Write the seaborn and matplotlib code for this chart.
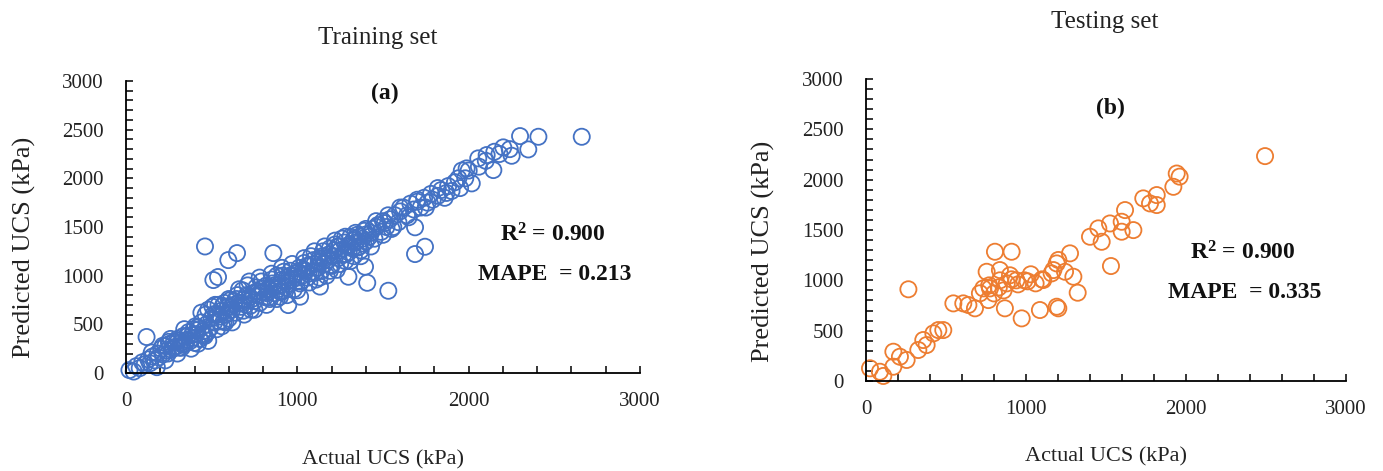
import matplotlib
matplotlib.use("Agg")
import matplotlib.pyplot as plt
from matplotlib.ticker import MultipleLocator
import seaborn as sns
import pandas as pd

# Training set: actual vs predicted UCS (kPa)
train_actual = [
    20, 45, 60, 80, 95, 110, 130, 140, 155, 170, 185, 120, 150, 190,
    205, 215, 230, 240, 255, 265, 280, 290, 300, 310, 320, 335, 345, 355, 365, 375, 385, 395, 400,
    410, 420, 430, 440, 450, 460, 465, 470, 480, 490, 500, 505, 515, 525, 530, 540, 550, 560, 570, 575, 585, 595, 600,
    610, 620, 630, 640, 650, 660, 670, 680, 690, 700, 710, 720, 730, 740, 750, 760, 770, 780, 790, 800,
    810, 820, 830, 840, 850, 860, 870, 880, 890, 900, 910, 920, 930, 940, 950, 960, 970, 980, 990, 1000,
    1010, 1020, 1030, 1040, 1050, 1060, 1070, 1080, 1090, 1100, 1110, 1120, 1130, 1140, 1150, 1160, 1170, 1180, 1190, 1200,
    1210, 1220, 1230, 1240, 1250, 1260, 1270, 1280, 1290, 1300, 1310, 1320, 1330, 1340, 1350, 1360, 1370, 1380, 1390, 1400,
    1420, 1440, 1450, 1470, 1490, 1500, 1520, 1540, 1550, 1570, 1590, 1600,
    1620, 1640, 1660, 1680, 1700, 1720, 1740, 1760, 1780, 1790,
    1820, 1840, 1860, 1880, 1900, 1920, 1950, 1980, 2000, 2018,
    2056, 2105, 2150, 2144, 1988, 2202, 2251, 2300, 2348, 2407, 2660,
    461, 510, 537, 597, 648, 860, 947, 1016, 899, 1132, 1298, 1395, 1408, 1531, 1687, 1687, 1745,
    215, 245, 275, 305, 330, 360, 390, 415, 445, 475, 510, 545, 565, 590, 615, 645, 675, 705, 735, 765,
    795, 825, 855, 885, 915, 945, 975, 1005, 1035, 1065, 1095, 1125, 1155, 1185, 1215, 1245, 1275, 1305,
    1335, 1365, 1395, 1430, 1460, 1510,
    180, 230, 260, 300, 340, 380, 420, 440, 480, 520, 560, 600, 620, 660, 690, 720, 750, 780, 820, 850,
    880, 910, 940, 970, 1000, 1040, 1070, 1100, 1130, 1160, 1190, 1220, 1250, 1280, 1310, 1340, 1370, 1400,
    1430, 1460, 1500, 1530, 1560, 1600, 1650, 1700, 1750, 1820, 1870, 1940, 1960, 2060, 2100, 2180, 2240,
    250, 325, 405, 455, 535, 580, 635, 685, 725, 775, 835, 865, 905, 955, 1015, 1055, 1105, 1145, 1195,
    1235, 1285, 1325, 1355, 1385,
]
train_pred = [
    30, 15, 70, 50, 110, 90, 140, 100, 170, 130, 200, 370, 210, 160,
    250, 190, 280, 230, 300, 240, 320, 270, 350, 260, 310, 380, 300, 340, 420, 330, 390, 450, 310,
    400, 470, 350, 520, 430, 380, 600, 500, 650, 460, 560, 680, 520, 610, 450, 700, 580, 640, 530, 720, 600, 680, 560,
    750, 650, 700, 620, 800, 720, 680, 850, 760, 700, 900, 780, 650, 820, 740, 880, 800, 720, 940, 830,
    780, 900, 860, 760, 960, 880, 820, 1000, 900, 840, 960, 1040, 880, 980, 920, 1050, 960, 860, 1020, 980,
    1080, 940, 1000, 1130, 1050, 980, 1100, 1200, 1040, 1120, 960, 1080, 1180, 1050, 1250, 1120, 1000, 1160, 1280, 1100,
    1200, 1320, 1060, 1180, 1260, 1380, 1220, 1150, 1300, 1240, 1400, 1280, 1200, 1340, 1420, 1300, 1260, 1380, 1460, 1350,
    1400, 1480, 1380, 1520, 1450, 1560, 1500, 1580, 1480, 1620, 1550, 1660,
    1700, 1620, 1740, 1680, 1760, 1700, 1800, 1750, 1840, 1780,
    1820, 1880, 1800, 1920, 1870, 1960, 1900, 2000, 2080, 1948,
    2205, 2239, 2273, 2085, 2102, 2318, 2232, 2434, 2297, 2427, 2427,
    1300, 955, 986, 1160, 1232, 1232, 698, 784, 784, 888, 989, 1092, 927, 845, 1497, 1222, 1297,
    280, 200, 260, 330, 290, 380, 360, 440, 400, 420, 600, 530, 690, 620, 680, 760, 720, 800, 760, 840,
    870, 820, 920, 860, 1000, 940, 1000, 1040, 1060, 1020, 1160, 1140, 1180, 1220, 1260, 1300, 1340, 1320,
    1380, 1400, 1420, 1440, 1500, 1540,
    60, 130, 350, 200, 450, 250, 300, 620, 330, 700, 480, 760, 520, 860, 600, 940, 650, 980, 700, 1020,
    760, 1080, 800, 1120, 850, 1180, 930, 1250, 980, 1300, 1050, 1360, 1120, 1400, 1150, 1440, 1200, 1480,
    1300, 1560, 1420, 1620, 1500, 1700, 1600, 1780, 1700, 1900, 1850, 2000, 2080, 2120, 2180, 2250, 2300,
    320, 260, 480, 390, 600, 520, 740, 640, 690, 840, 780, 900, 830, 1000, 920, 1100, 1030, 1200, 1110,
    1300, 1220, 1360, 1290, 1330,
]

# Testing set: actual vs predicted UCS (kPa)
test_actual = [
    25, 87, 108, 171, 171, 212, 254, 265, 327, 358, 379, 421, 452, 483,
    546, 608, 640, 681, 712, 733, 775, 765, 754, 837, 806, 910, 868,
    973, 1087, 1192, 1160, 1192,
    837, 880, 910, 950, 990, 1030, 1060, 900, 860, 940, 1010, 1100, 770, 800, 830,
    1942, 1960, 1921, 1733, 1817, 1775, 1817, 1619, 1598, 1525, 1671, 1598,
    1452, 1400, 1473, 1531, 1275, 1202, 1171, 1244, 1296, 1323, 1202, 1108,
    2494,
]
test_pred = [
    126, 92, 50, 142, 291, 241, 209, 911, 308, 407, 357, 473, 506, 506,
    771, 771, 755, 722, 871, 920, 920, 804, 1085, 1102, 1284, 1284, 722,
    622, 705, 738, 1069, 1168,
    1000, 970, 1010, 960, 1000, 1060, 970, 1050, 900, 1000, 990, 1010, 950, 870, 930,
    2061, 2030, 1929, 1814, 1847, 1764, 1748, 1698, 1582, 1565, 1499, 1483,
    1516, 1433, 1383, 1142, 1268, 1202, 1102, 1085, 1036, 877, 722, 1003,
    2234,
]

panels = [
    dict(actual=train_actual, pred=train_pred, color="#4472C4",
         title="Training set", tag="(a)", r2="0.900", mape="0.213"),
    dict(actual=test_actual, pred=test_pred, color="#ED7D31",
         title="Testing set", tag="(b)", r2="0.900", mape="0.335"),
]

sns.set_theme(style="white")
plt.rcParams["font.family"] = ["Liberation Serif", "DejaVu Serif"]
plt.rcParams["mathtext.fontset"] = "custom"
plt.rcParams["mathtext.rm"] = "Liberation Serif"
plt.rcParams["mathtext.bf"] = "Liberation Serif:bold"

W, H = 1383, 471
fig = plt.figure(figsize=(W / 100, H / 100), dpi=100)

# axes boxes in pixels: left, right, bottom, top
boxes = [(126, 640, 373, 81), (866, 1346, 381, 79)]
title_xy = [(378, 38), (1105, 22)]
tag_xy = [(385, 93), (1110, 108)]
r2_xy = [(553, 235), (1243, 253)]
mape_xy = [(555, 275), (1245, 293)]
xlab_top = [450, 447]
ylab_x = [24, 763]

for i, p in enumerate(panels):
    l, r, b, t = boxes[i]
    ax = fig.add_axes([l / W, 1 - b / H, (r - l) / W, (b - t) / H])
    df = pd.DataFrame({"Actual": p["actual"], "Predicted": p["pred"]})
    sns.scatterplot(data=df, x="Actual", y="Predicted", ax=ax, s=135,
                    marker="o", facecolor="none", edgecolor=p["color"],
                    linewidth=1.3, clip_on=False)
    ax.set_xlim(0, 3000)
    ax.set_ylim(0, 3000)
    ax.xaxis.set_major_locator(MultipleLocator(1000))
    ax.xaxis.set_minor_locator(MultipleLocator(200))
    ax.yaxis.set_major_locator(MultipleLocator(500))
    ax.yaxis.set_minor_locator(MultipleLocator(100))
    for s in ["top", "right"]:
        ax.spines[s].set_visible(False)
    for s in ["left", "bottom"]:
        ax.spines[s].set_color("black")
        ax.spines[s].set_linewidth(1.3)
    ax.tick_params(which="both", direction="in", length=5, width=1.1,
                   color="black", labelsize=15, labelcolor="#222222")
    ax.tick_params(axis="x", which="both", bottom=True, pad=14)
    ax.tick_params(axis="y", which="both", left=True, pad=16)

    ax.set_xlabel("Actual UCS (kPa)", fontsize=16, color="#222222")
    ax.set_ylabel("Predicted UCS (kPa)", fontsize=19, color="#222222")
    ax.xaxis.set_label_coords(0.5, (b - xlab_top[i]) / (b - t))
    ax.yaxis.set_label_coords((ylab_x[i] - l) / (r - l), 0.43)
    ax.yaxis.label.set_ha("center")
    ax.yaxis.label.set_va("center")

    fig.text(title_xy[i][0] / W, 1 - title_xy[i][1] / H, p["title"],
             ha="center", va="center", fontsize=18, color="#222222")
    fig.text(tag_xy[i][0] / W, 1 - tag_xy[i][1] / H, p["tag"],
             ha="center", va="center", fontsize=17, fontweight="bold", color="#111111")
    fig.text(r2_xy[i][0] / W, 1 - r2_xy[i][1] / H,
             r"$\mathbf{R^2}$" + r" = " + p["r2"],
             ha="center", va="center", fontsize=17, fontweight="bold", color="#111111")
    fig.text(mape_xy[i][0] / W, 1 - mape_xy[i][1] / H, "MAPE  = " + p["mape"],
             ha="center", va="center", fontsize=17, fontweight="bold", color="#111111")

fig.savefig("out.png", dpi=100)
